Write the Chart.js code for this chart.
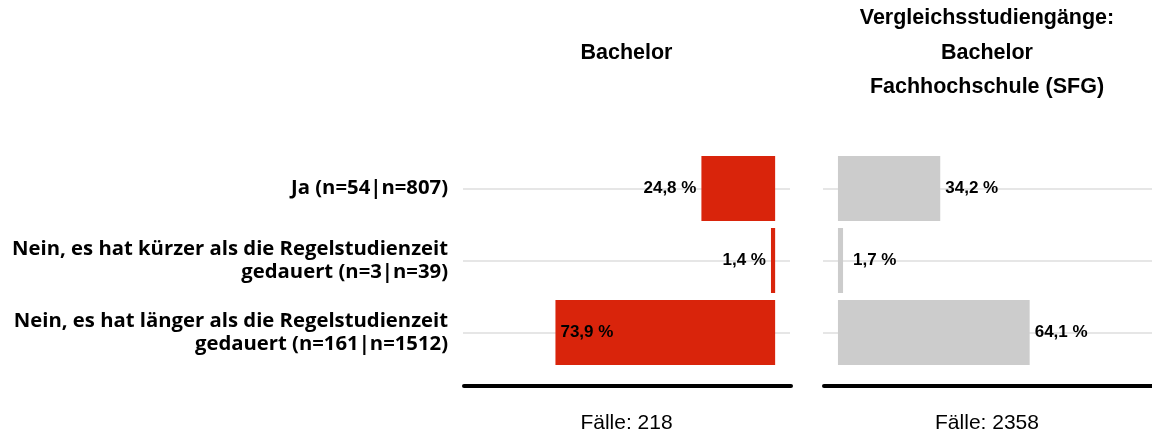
<!DOCTYPE html>
<html>
<head>
<meta charset="utf-8">
<script src="https://cdn.jsdelivr.net/npm/chart.js@4"></script>
<style>
  html, body { margin: 0; padding: 0; background: #fff; }
  body { width: 1152px; height: 437px; position: relative; overflow: hidden; font-family: "Liberation Sans", Arial, sans-serif; }
  .box { position: absolute; top: 0; height: 437px; }
  .title { position: absolute; text-align: center; font-weight: bold; font-size: 21.5px; line-height: 34.5px; color: #000; }
  .cases { position: absolute; text-align: center; font-size: 21px; line-height: 26px; top: 409px; color: #000; }
</style>
</head>
<body>
<div class="box" style="left:0;width:800px"><canvas id="leftChart"></canvas></div>
<div class="box" style="left:800px;width:352px"><canvas id="rightChart"></canvas></div>
<div class="title" style="left:463px;width:327px;top:35px">Bachelor</div>
<div class="title" style="left:822px;width:330px;top:0">Vergleichsstudiengänge:<br>Bachelor<br>Fachhochschule (SFG)</div>
<div class="cases" style="left:463px;width:327px">Fälle: 218</div>
<div class="cases" style="left:822px;width:330px">Fälle: 2358</div>
<script>
const categories = [
  ['Ja (n=54|n=807)'],
  ['Nein, es hat kürzer als die Regelstudienzeit', 'gedauert (n=3|n=39)'],
  ['Nein, es hat länger als die Regelstudienzeit', 'gedauert (n=161|n=1512)']
];
const bachelorValues = [24.8, 1.4, 73.9];
const vergleichValues = [34.2, 1.7, 64.1];

const fmt = v => v.toFixed(1).replace('.', ',') + ' %';

// Prozentwerte neben/in die Balken schreiben
const valueLabels = {
  id: 'valueLabels',
  afterDatasetsDraw(chart, args, opts) {
    const ctx = chart.ctx;
    const meta = chart.getDatasetMeta(0);
    const data = chart.data.datasets[0].data;
    ctx.save();
    ctx.font = 'bold 17px "Liberation Sans", Arial, sans-serif';
    ctx.fillStyle = '#000';
    ctx.textBaseline = 'middle';
    meta.data.forEach((bar, i) => {
      const v = data[i];
      if (opts.reversed) {
        if (v > 50) {
          ctx.textAlign = 'left';
          ctx.fillText(fmt(v), bar.x + 5, bar.y);
        } else {
          ctx.textAlign = 'right';
          ctx.fillText(fmt(v), bar.x - 5, bar.y);
        }
      } else {
        ctx.textAlign = 'left';
        ctx.fillText(fmt(v), Math.max(bar.x, bar.base + 10) + 5, bar.y);
      }
    });
    ctx.restore();
  }
};

// dicke schwarze Linie unter dem Diagramm
const baseLine = {
  id: 'baseLine',
  afterDraw(chart) {
    const ctx = chart.ctx;
    const a = chart.chartArea;
    ctx.save();
    ctx.strokeStyle = '#000';
    ctx.lineWidth = 4;
    ctx.lineCap = 'round';
    ctx.beginPath();
    ctx.moveTo(a.left + 1, a.bottom + 17.5);
    ctx.lineTo(a.right + 1, a.bottom + 17.5);
    ctx.stroke();
    ctx.restore();
  }
};

Chart.defaults.animation = false;

const leftChart = new Chart(document.getElementById('leftChart'), {
  type: 'bar',
  data: {
    labels: categories,
    datasets: [{
      data: bachelorValues,
      backgroundColor: '#d9240b',
      barPercentage: 0.9,
      categoryPercentage: 1
    }]
  },
  options: {
    indexAxis: 'y',
    responsive: true,
    maintainAspectRatio: false,
    layout: { padding: { top: 152.5, bottom: 68.5, left: 0, right: 10 } },
    plugins: {
      legend: { display: false },
      tooltip: { enabled: false },
      valueLabels: { reversed: true }
    },
    scales: {
      x: { display: false, reverse: true, min: -5, max: 105 },
      y: {
        afterFit: s => { s.width = 463; },
        border: { display: false },
        grid: { offset: false, drawTicks: false, color: '#e6e6e6', lineWidth: 2 },
        ticks: {
          padding: 15,
          color: '#000',
          font: { family: '"Open Sans", Lato, sans-serif', weight: 'bold', size: 20.3, lineHeight: 1.15 }
        }
      }
    }
  },
  plugins: [valueLabels, baseLine]
});

const rightChart = new Chart(document.getElementById('rightChart'), {
  type: 'bar',
  data: {
    labels: categories,
    datasets: [{
      data: vergleichValues,
      backgroundColor: '#cccccc',
      barPercentage: 0.9,
      categoryPercentage: 1
    }]
  },
  options: {
    indexAxis: 'y',
    responsive: true,
    maintainAspectRatio: false,
    layout: { padding: { top: 152.5, bottom: 68.5, left: 23, right: 0 } },
    plugins: {
      legend: { display: false },
      tooltip: { enabled: false },
      valueLabels: { reversed: false }
    },
    scales: {
      x: { display: false, min: -5, max: 105 },
      y: {
        afterFit: s => { s.width = 0; },
        border: { display: false },
        grid: { offset: false, drawTicks: false, color: '#e6e6e6', lineWidth: 2 },
        ticks: { display: false }
      }
    }
  },
  plugins: [valueLabels, baseLine]
});
</script>
</body>
</html>
